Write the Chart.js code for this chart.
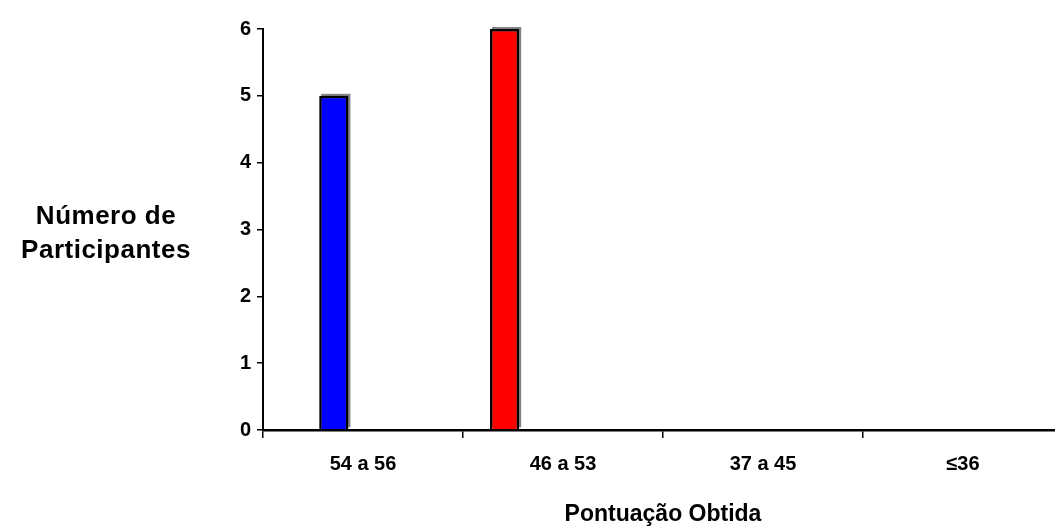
<!DOCTYPE html>
<html>
<head>
<meta charset="utf-8">
<script src="https://cdn.jsdelivr.net/npm/chart.js@4.4.1/dist/chart.umd.min.js"></script>
<style>
  html, body { margin: 0; padding: 0; background: #fff; overflow: hidden; }
  #wrap { position: relative; width: 1080px; height: 528px; }
</style>
</head>
<body>
<div id="wrap"><canvas id="c" width="1080" height="528"></canvas></div>
<script>
// Score bands on the horizontal axis
const categories = ['54 a 56', '46 a 53', '37 a 45', '\u226436'];
// Participant counts per series (one bar slot each within a band)
const seriesRed  = [null, 6, null, null];
const seriesBlue = [5, null, null, null];
const seriesC    = [null, null, null, null];
const seriesD    = [null, null, null, null];
const seriesE    = [null, null, null, null];
const yTicks = [0, 1, 2, 3, 4, 5, 6];

const FONT = '"Liberation Sans", Arial, sans-serif';

// Horizontal two-line title on the left of the value axis
const yTitlePlugin = {
  id: 'yTitle',
  afterDraw(chart) {
    const { ctx, chartArea } = chart;
    const cx = chartArea.left - 157;
    const cy = (chartArea.top + chartArea.bottom) / 2;
    ctx.save();
    ctx.fillStyle = '#000';
    ctx.font = 'bold 26px ' + FONT;
    if ('letterSpacing' in ctx) ctx.letterSpacing = '0.5px';
    ctx.textAlign = 'center';
    ctx.textBaseline = 'middle';
    ctx.fillText('Número de', cx, cy - 13);
    ctx.fillText('Participantes', cx, cy + 21);
    ctx.restore();
  }
};

// Grey shadow strip offset up-right behind each bar, taken from the bar elements
const barShadow = {
  id: 'barShadow',
  beforeDatasetsDraw(chart) {
    const ctx = chart.ctx;
    const area = chart.chartArea;
    ctx.save();
    ctx.beginPath();
    ctx.rect(area.left, area.top - 5, area.right - area.left, area.bottom - area.top + 5);
    ctx.clip();
    ctx.fillStyle = 'rgba(90,90,90,0.75)';
    chart.data.datasets.forEach((ds, i) => {
      chart.getDatasetMeta(i).data.forEach((bar, j) => {
        if (ds.data[j] == null) return;
        const p = bar.getProps(['x', 'y', 'base', 'width'], true);
        const left = p.x - p.width / 2;
        const top = Math.min(p.y, p.base);
        const h = Math.abs(p.base - p.y);
        ctx.fillRect(left + 2, top - 2, p.width, h);
      });
    });
    ctx.restore();
  }
};

const mk = (data, color) => ({
  data, backgroundColor: color, borderColor: '#000', borderWidth: 2.5,
  categoryPercentage: 0.73, barPercentage: 1.0
});

new Chart(document.getElementById('c'), {
  type: 'bar',
  data: {
    labels: categories,
    datasets: [
      mk(seriesRed, '#ff0000'),
      mk(seriesBlue, '#0000ff'),
      mk(seriesC, '#ffff00'),
      mk(seriesD, '#00ffff'),
      mk(seriesE, '#ff00ff')
    ]
  },
  options: {
    responsive: false,
    animation: false,
    layout: { padding: { top: 29, right: 17, left: 0, bottom: 0 } },
    plugins: { legend: { display: false }, tooltip: { enabled: false } },
    scales: {
      x: {
        grid: { display: true, drawOnChartArea: false, drawTicks: true, tickLength: 8, color: '#000', lineWidth: 1.5, offset: true },
        border: { display: true, color: '#000', width: 2.5 },
        ticks: { color: '#000', font: { family: FONT, size: 20, weight: 'bold' }, padding: 14, maxRotation: 0 },
        title: { display: true, text: 'Pontuação Obtida', color: '#000', font: { family: FONT, size: 23, weight: 'bold' }, padding: { top: 12, bottom: 0 } },
        afterFit(scale) { scale.height = 98; }
      },
      y: {
        min: 0, max: 6,
        afterBuildTicks(scale) { scale.ticks = yTicks.map(v => ({ value: v })); },
        grid: { display: true, drawOnChartArea: false, drawTicks: true, tickLength: 6, color: '#000', lineWidth: 1.5 },
        border: { display: true, color: '#000', width: 2 },
        ticks: { color: '#000', font: { family: FONT, size: 20, weight: 'bold' }, padding: 6 },
        afterFit(scale) { scale.width = 263; }
      }
    }
  },
  plugins: [yTitlePlugin, barShadow]
});
</script>
</body>
</html>
